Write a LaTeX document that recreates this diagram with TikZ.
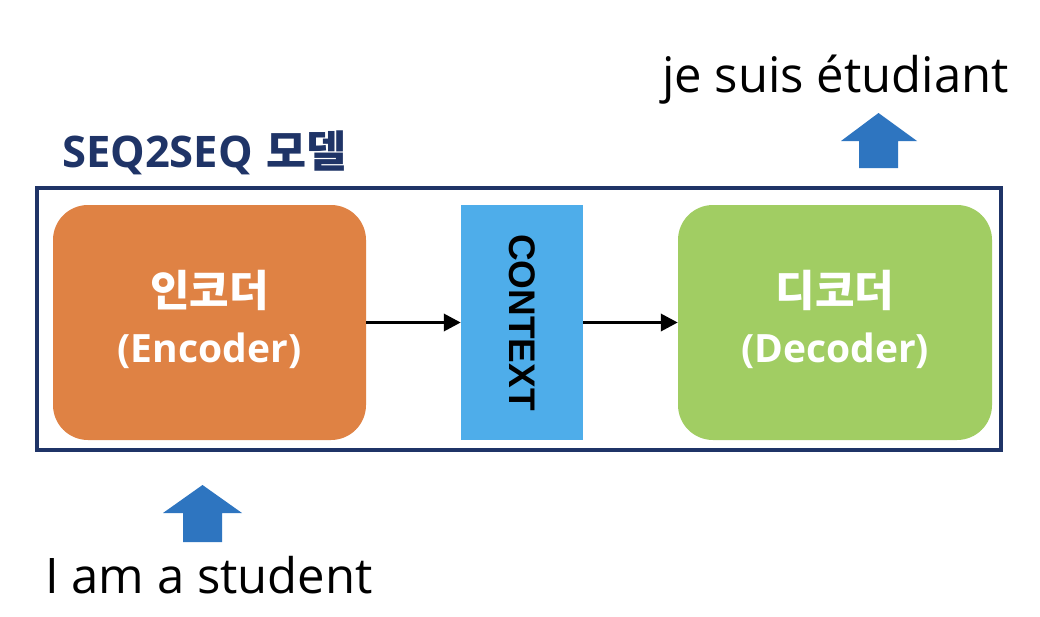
\documentclass[tikz,border=0pt]{standalone}
\usepackage{fontspec}
\setmainfont{Open Sans}
\newfontfamily\kr{Noto Sans CJK KR}
\newfontfamily\arialfont{Liberation Sans}
\usetikzlibrary{arrows.meta}
\definecolor{navy}{HTML}{1F3467}
\definecolor{encorange}{HTML}{DF8244}
\definecolor{decgreen}{HTML}{A1CD63}
\definecolor{ctxblue}{HTML}{4EADEA}
\definecolor{uparrow}{HTML}{2E75C0}
\tikzset{
  block/.style={rounded corners=35pt, minimum width=313pt, minimum height=235pt, inner sep=0pt},
  blocktext/.style={text=white, align=center, inner sep=0pt, font=\fontsize{39}{56}\selectfont\bfseries},
  conn/.style={line width=3.5pt, -{Triangle[length=17pt,width=17pt]}},
  bigup/.style={fill=uparrow},
  caption/.style={inner sep=0pt, anchor=base west, font=\fontsize{49}{60}\selectfont}
}
\begin{document}
\begin{tikzpicture}[x=1pt,y=-1pt]
\useasboundingbox[fill=white] (0,0) rectangle (1040,616);
\node[draw=navy, line width=3.5pt, minimum width=964pt, minimum height=262pt, inner sep=0pt] (model) at (519,319) {};
\node[inner sep=0pt, anchor=base west, text=navy, font=\fontsize{43.5}{48}\selectfont\bfseries] (title) at (62,167) {SEQ2SEQ\hspace{14pt}{\kr\bfseries 모델}};
\node[block, fill=encorange] (enc) at (209.5,322.5) {};
\node[blocktext] (enctext) at ([yshift=3pt]enc.center) {{\kr\fontsize{43}{56}\selectfont 인코더}\\(Encoder)};
\node[block, fill=decgreen, minimum width=314pt] (dec) at (835,322.5) {};
\node[blocktext] (dectext) at ([yshift=3pt]dec.center) {{\kr\fontsize{43}{56}\selectfont 디코더}\\(Decoder)};
\node[fill=ctxblue, minimum width=122pt, minimum height=235pt, inner sep=0pt] (ctx) at (522,322.5) {};
\node[rotate=-90, inner sep=0pt, font=\arialfont\fontsize{37}{40}\selectfont\bfseries] (ctxlabel) at (ctx.center) {CONTEXT};
\draw[conn] (enc.east) -- (ctx.west);
\draw[conn] (ctx.east) -- (dec.west);
\node[caption] (src) at (45,593) {I am a student};
\node[caption] (tgt) at (662,92) {je suis étudiant};
\fill[bigup] (183,542) -- (183,513) -- (163,513) -- (202.5,485) -- (242,513) -- (222,513) -- (222,542) -- cycle;
\fill[bigup] (859,168) -- (859,141) -- (841,141) -- (878.5,113) -- (917,141) -- (898,141) -- (898,168) -- cycle;
\end{tikzpicture}
\end{document}
